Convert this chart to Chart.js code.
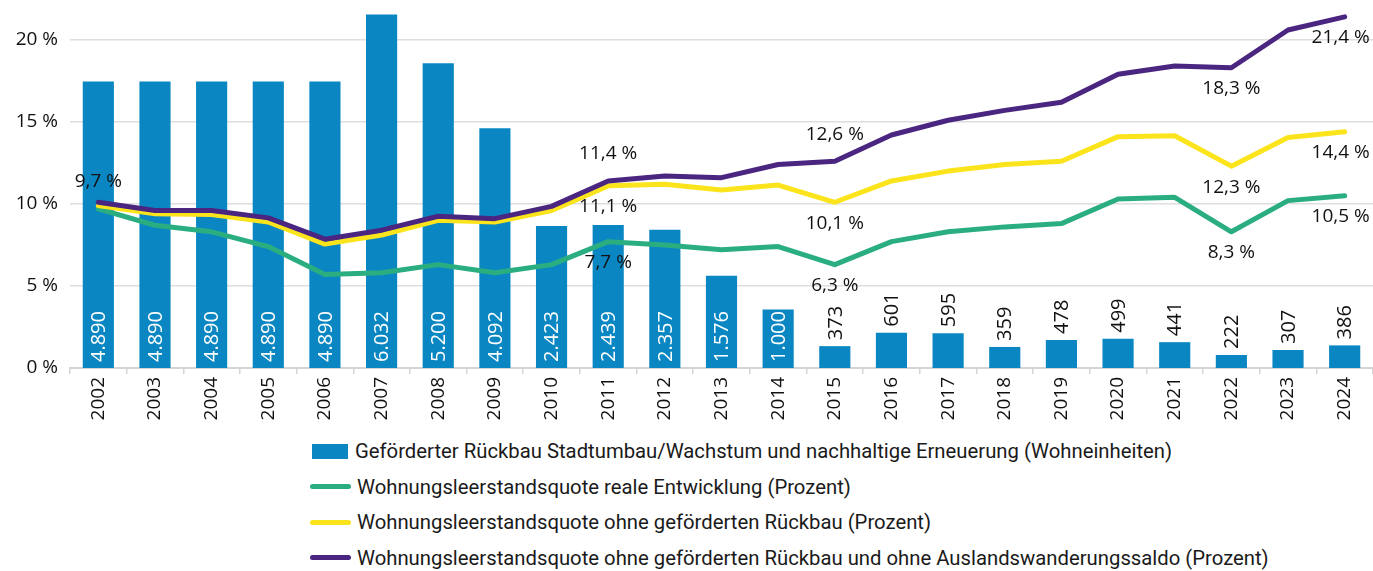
<!DOCTYPE html>
<html lang="de">
<head>
  <meta charset="UTF-8">
  <title>Wohnungsleerstand und Rückbau</title>
  <script src="https://cdn.jsdelivr.net/npm/chart.js"></script>
  <style>
    body {
      margin: 0;
      background: #ffffff;
      width: 1373px;
      height: 571px;
      overflow: hidden;
      position: relative;
    }
    #wrap {
      position: absolute;
      left: 0;
      top: 0;
      width: 1373px;
      height: 430px;
    }
    #legend {
      position: absolute;
      left: 310px;
      top: 437px;
      font-family: 'Roboto', sans-serif;
      font-size: 20.3px;
      color: #1a1a1a;
    }
    .item {
      display: flex;
      align-items: center;
      height: 28px;
      margin-bottom: 7.5px;
    }
    .swatch {
      width: 41px;
      margin-right: 6px;
      flex: none;
    }
  </style>
</head>
<body>

  <div id="wrap"><canvas id="chart"></canvas></div>
  <div id="legend"></div>

  <script>
    const years = ['2002', '2003', '2004', '2005', '2006', '2007', '2008', '2009', '2010', '2011', '2012',
                   '2013', '2014', '2015', '2016', '2017', '2018', '2019', '2020', '2021', '2022', '2023', '2024'];

    // Wohneinheiten (Balken)
    const rueckbau = [4890, 4890, 4890, 4890, 4890, 6032, 5200, 4092, 2423, 2439, 2357,
                      1576, 1000, 373, 601, 595, 359, 478, 499, 441, 222, 307, 386];

    // Leerstandsquoten in %
    const quoteReal = [9.7, 8.7, 8.3, 7.4, 5.7, 5.8, 6.3, 5.8, 6.3, 7.7, 7.5,
                       7.2, 7.4, 6.3, 7.7, 8.3, 8.6, 8.8, 10.3, 10.4, 8.3, 10.2, 10.5];
    const quoteOhneRueckbau = [9.9, 9.4, 9.35, 8.9, 7.55, 8.1, 9.0, 8.9, 9.6, 11.1, 11.2,
                               10.85, 11.15, 10.1, 11.4, 12.0, 12.4, 12.6, 14.1, 14.15, 12.3, 14.05, 14.4];
    const quoteOhneAusland = [10.1, 9.6, 9.6, 9.15, 7.85, 8.4, 9.25, 9.1, 9.85, 11.4, 11.7,
                              11.6, 12.4, 12.6, 14.2, 15.1, 15.7, 16.2, 17.9, 18.4, 18.3, 20.6, 21.4];

    const yTicks = [0, 5, 10, 15, 20];

    const seriesLabels = [
      'Geförderter Rückbau Stadtumbau/Wachstum und nachhaltige Erneuerung (Wohneinheiten)',
      'Wohnungsleerstandsquote reale Entwicklung (Prozent)',
      'Wohnungsleerstandsquote ohne geförderten Rückbau (Prozent)',
      'Wohnungsleerstandsquote ohne geförderten Rückbau und ohne Auslandswanderungssaldo (Prozent)'
    ];

    const colors = ['#0a87c2', '#2aae80', '#fbe41c', '#4a2680'];

    // welche Punkte beschriftet werden: [Datensatz, Jahr-Index, oben/unten]
    const pointLabels = [
      [1, 0, 'above'],
      [3, 9, 'above'], [2, 9, 'below'], [1, 9, 'below'],
      [3, 13, 'above'], [2, 13, 'below'], [1, 13, 'below'],
      [3, 20, 'below'], [2, 20, 'below'], [1, 20, 'below'],
      [3, 22, 'below'], [2, 22, 'below'], [1, 22, 'below']
    ];

    const FONT = "'Open Sans', sans-serif";
    const Y_MAX = 22;
    const BAR_PER_PERCENT = 280;

    function fmtThousand(v) {
      return String(v).replace(/\B(?=(\d{3})+(?!\d))/g, '.');
    }
    function fmtPercent(v) {
      return v.toFixed(1).replace('.', ',') + ' %';
    }

    const labelPlugin = {
      id: 'labels',
      afterDatasetsDraw(chart) {
        const ctx = chart.ctx;
        ctx.save();
        ctx.font = '20px ' + FONT;
        ctx.textBaseline = 'middle';
        ctx.textAlign = 'left';

        // Balkenwerte, gedreht
        const barMeta = chart.getDatasetMeta(0);
        barMeta.data.forEach((bar, i) => {
          const v = rueckbau[i];
          const inside = v >= 1000;
          const y = inside ? bar.base - 6 : bar.y - 6;
          ctx.save();
          ctx.translate(bar.x + 1, y);
          ctx.rotate(-Math.PI / 2);
          ctx.fillStyle = inside ? '#ffffff' : '#111111';
          ctx.fillText(fmtThousand(v), 0, 0);
          ctx.restore();
        });

        // Prozentwerte an den Linien
        ctx.font = '19px ' + FONT;
        ctx.textAlign = 'center';
        ctx.fillStyle = '#111111';
        pointLabels.forEach(([ds, i, where]) => {
          const pt = chart.getDatasetMeta(ds).data[i];
          const value = chart.data.datasets[ds].data[i];
          const dy = where === 'above' ? -27 : 21;
          let x = pt.x;
          if (i === chart.data.labels.length - 1) x -= 4;
          ctx.fillText(fmtPercent(value), x, pt.y + dy);
        });
        ctx.restore();
      }
    };

    const lineStyle = {
      type: 'line',
      yAxisID: 'y',
      borderWidth: 5,
      pointRadius: 0,
      tension: 0,
      borderJoinStyle: 'round',
      borderCapStyle: 'round',
      fill: false
    };

    new Chart(document.getElementById('chart').getContext('2d'), {
      data: {
        labels: years,
        datasets: [
          {
            type: 'bar',
            label: seriesLabels[0],
            data: rueckbau,
            backgroundColor: colors[0],
            yAxisID: 'y1',
            categoryPercentage: 1,
            barPercentage: 0.55,
            order: 4
          },
          Object.assign({}, lineStyle, { label: seriesLabels[1], data: quoteReal, borderColor: colors[1], order: 3 }),
          Object.assign({}, lineStyle, { label: seriesLabels[2], data: quoteOhneRueckbau, borderColor: colors[2], order: 2 }),
          Object.assign({}, lineStyle, { label: seriesLabels[3], data: quoteOhneAusland, borderColor: colors[3], order: 1 })
        ]
      },
      options: {
        responsive: true,
        maintainAspectRatio: false,
        animation: false,
        layout: { padding: { top: 7, right: 0, left: 0, bottom: 0 } },
        plugins: {
          legend: { display: false },
          tooltip: { enabled: false }
        },
        scales: {
          x: {
            offset: true,
            grid: {
              offset: true,
              drawOnChartArea: false,
              drawTicks: true,
              tickLength: 6,
              color: '#d4d4d4',
              lineWidth: 1.5
            },
            border: { display: true, color: '#d4d4d4', width: 2 },
            ticks: {
              maxRotation: 90,
              minRotation: 90,
              padding: 3,
              color: '#111111',
              font: { family: FONT, size: 19 }
            },
            afterFit(scale) {
              scale.height = 62;
              scale.paddingLeft = 0;
              scale.paddingRight = 0;
            }
          },
          y: {
            min: 0,
            max: Y_MAX,
            grid: { color: '#dedede', lineWidth: 1.5, drawTicks: false },
            border: { display: false },
            ticks: {
              stepSize: 5,
              padding: 12,
              color: '#111111',
              font: { family: FONT, size: 19 },
              callback: v => v + ' %'
            },
            afterBuildTicks(scale) {
              scale.ticks = yTicks.map(v => ({ value: v }));
            },
            afterFit(scale) {
              scale.width = 70;
              scale.paddingTop = 0;
              scale.paddingBottom = 0;
            }
          },
          y1: {
            display: false,
            min: 0,
            max: Y_MAX * BAR_PER_PERCENT
          }
        }
      },
      plugins: [labelPlugin]
    });

    // Legende
    const legend = document.getElementById('legend');
    seriesLabels.forEach((text, i) => {
      const row = document.createElement('div');
      row.className = 'item';
      const sw = document.createElement('span');
      sw.className = 'swatch';
      sw.style.background = colors[i];
      if (i === 0) {
        sw.style.height = '15px';
        sw.style.width = '36px';
        sw.style.marginLeft = '2px';
        sw.style.marginRight = '7px';
      } else {
        sw.style.height = '5px';
        sw.style.borderRadius = '3px';
      }
      const label = document.createElement('span');
      label.textContent = text;
      row.appendChild(sw);
      row.appendChild(label);
      legend.appendChild(row);
    });
  </script>

</body>
</html>
